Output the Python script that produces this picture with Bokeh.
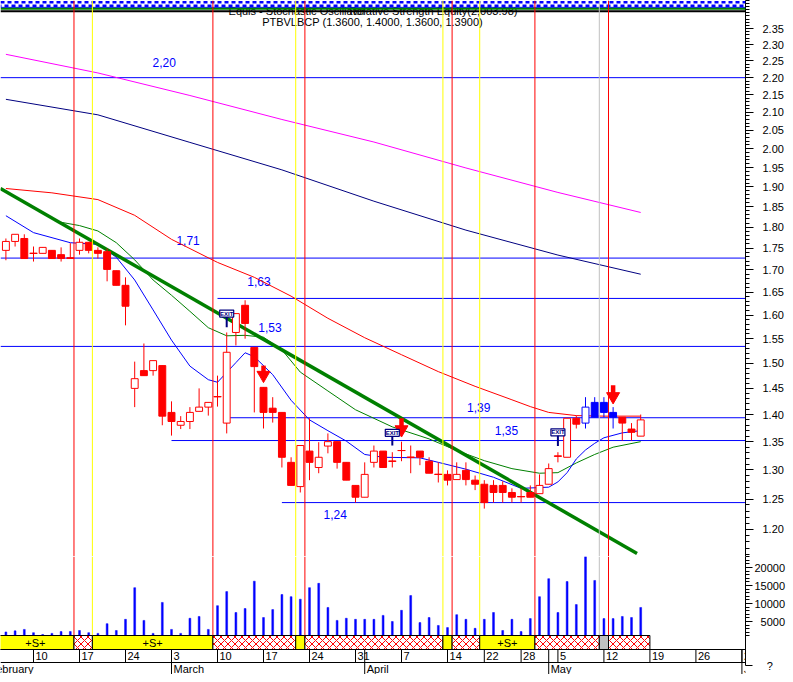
from bokeh.plotting import figure
from bokeh.layouts import column
from bokeh.models import Range1d, FixedTicker, PrintfTickFormatter, Span, ColumnDataSource
from bokeh.core.properties import value
from bokeh.embed import file_html
from bokeh.resources import INLINE

FONT = "Liberation Sans"

# ---------------------------------------------------------------- data
# trading-day index: 0 = Mon 10 Feb 2003 (18/21 Apr and 1 May are closed)
days = list(range(-3, 67))
opens = [1.745, 1.766, 1.773, 1.738, 1.738, 1.745, 1.735, 1.728, 1.745, 1.764,
         1.745, 1.742, 1.698, 1.665, 1.450, 1.485, 1.485, 1.495, 1.404, 1.380,
         1.387, 1.406, 1.414, 1.434, 1.384, 1.563, 1.621, 1.532, 1.452, 1.412,
         1.404, 1.313, 1.271, 1.333, 1.304, 1.342, 1.350, 1.313, 1.273, 1.253,
         1.313, 1.333, 1.315, 1.334, 1.322, 1.333, 1.315, 1.292, 1.292, 1.283,
         1.299, 1.282, 1.275, 1.273, 1.273, 1.261, 1.254, 1.261, 1.259, 1.275,
         1.324, 1.322, 1.393, 1.384, 1.423, 1.423, 1.404, 1.395, 1.373, 1.360]
highs = [1.773, 1.783, 1.783, 1.754, 1.752, 1.745, 1.752, 1.762, 1.773, 1.764,
         1.752, 1.749, 1.698, 1.683, 1.503, 1.540, 1.505, 1.495, 1.425, 1.397,
         1.414, 1.450, 1.423, 1.475, 1.563, 1.603, 1.632, 1.532, 1.452, 1.433,
         1.404, 1.322, 1.343, 1.393, 1.349, 1.365, 1.350, 1.313, 1.273, 1.313,
         1.343, 1.333, 1.331, 1.350, 1.343, 1.333, 1.322, 1.313, 1.299, 1.313,
         1.313, 1.290, 1.282, 1.282, 1.280, 1.268, 1.268, 1.273, 1.292, 1.311,
         1.331, 1.393, 1.398, 1.433, 1.433, 1.433, 1.414, 1.395, 1.384, 1.400]
lows = [1.722, 1.754, 1.726, 1.719, 1.738, 1.726, 1.719, 1.726, 1.735, 1.738,
        1.726, 1.674, 1.665, 1.578, 1.414, 1.475, 1.475, 1.380, 1.361, 1.373,
        1.373, 1.406, 1.398, 1.415, 1.365, 1.536, 1.550, 1.404, 1.374, 1.385,
        1.304, 1.273, 1.261, 1.282, 1.294, 1.329, 1.302, 1.282, 1.244, 1.253,
        1.304, 1.304, 1.304, 1.315, 1.294, 1.308, 1.294, 1.278, 1.273, 1.283,
        1.273, 1.265, 1.234, 1.244, 1.244, 1.244, 1.244, 1.253, 1.259, 1.275,
        1.313, 1.322, 1.374, 1.374, 1.395, 1.395, 1.374, 1.352, 1.352, 1.360]
closes = [1.766, 1.783, 1.726, 1.738, 1.752, 1.726, 1.726, 1.726, 1.764, 1.745,
          1.738, 1.701, 1.665, 1.619, 1.469, 1.475, 1.505, 1.397, 1.387, 1.387,
          1.404, 1.414, 1.423, 1.434, 1.522, 1.603, 1.582, 1.493, 1.404, 1.404,
          1.322, 1.273, 1.343, 1.313, 1.322, 1.350, 1.313, 1.282, 1.253, 1.292,
          1.333, 1.304, 1.315, 1.334, 1.322, 1.322, 1.294, 1.292, 1.282, 1.292,
          1.283, 1.275, 1.244, 1.261, 1.261, 1.253, 1.254, 1.253, 1.273, 1.302,
          1.324, 1.393, 1.382, 1.414, 1.395, 1.404, 1.395, 1.384, 1.367, 1.390]
volumes = [2100, 2400, 2800, 1900, 1400, 1700, 2200, 2200, 2500, 1900,
           1700, 4400, 2500, 5600, 14400, 5300, 1700, 10300, 2800, 1700,
           5900, 6400, 2800, 9400, 13300, 7500, 8600, 16200, 6100, 8300,
           12500, 11900, 11200, 14400, 15600, 8900, 5300, 5900, 5600, 5600,
           5600, 6700, 5000, 8100, 12200, 4700, 6100, 3900, 3300, 6900,
           5600, 3100, 5600, 7500, 2500, 5600, 2200, 5800, 11900, 16900,
           7500, 16100, 9700, 23000, 16400, 5800, 5800, 6400, 6100, 8900]
blue_candle_days = [60, 61, 62, 63]

ma_red_days = [-3, 2, 7, 11, 15, 20, 24, 28, 32, 36, 40, 44, 48, 52, 54, 56, 59, 62, 66]
ma_red = [1.896, 1.885, 1.868, 1.829, 1.771, 1.717, 1.683, 1.641, 1.593, 1.552,
          1.517, 1.483, 1.454, 1.428, 1.415, 1.404, 1.398, 1.397, 1.397]
ma_navy_days = [-3, 7, 17, 27, 37, 47, 57, 66]
ma_navy = [2.137, 2.093, 2.017, 1.944, 1.864, 1.793, 1.734, 1.690]
ma_magenta_days = [-3, 7, 17, 27, 37, 47, 57, 66]
ma_magenta = [2.270, 2.214, 2.148, 2.080, 2.018, 1.949, 1.886, 1.836]
ma_blue_days = [-3, 0, 4, 7, 9, 11, 13, 15, 17, 19, 20, 22, 23, 24, 26, 28, 30, 32, 34,
                36, 38, 42, 44, 47, 50, 53, 56, 57, 58, 59, 60, 61, 62, 64, 66]
ma_blue = [1.828, 1.787, 1.763, 1.759, 1.729, 1.677, 1.611, 1.547, 1.494, 1.467,
           1.462, 1.501, 1.521, 1.513, 1.477, 1.427, 1.390, 1.370, 1.351, 1.327,
           1.322, 1.321, 1.313, 1.301, 1.287, 1.268, 1.270, 1.279, 1.295, 1.319,
           1.335, 1.347, 1.357, 1.366, 1.370]
ma_green_days = [3, 5, 7, 9, 11, 13, 15, 17, 19, 21, 23, 25, 27, 29, 32, 35, 39, 43,
                 46, 49, 52, 55, 57, 59, 61, 63, 66]
ma_green = [1.812, 1.804, 1.791, 1.763, 1.723, 1.677, 1.643, 1.608, 1.573, 1.556,
            1.557, 1.553, 1.527, 1.482, 1.445, 1.409, 1.377, 1.355, 1.334, 1.316,
            1.302, 1.294, 1.295, 1.312, 1.327, 1.340, 1.350]
trend_days = [-3.6, 65.6]
trend_vals = [1.896, 1.162]

level_values = [2.200, 1.727, 1.636, 1.534, 1.394, 1.352, 1.244]
level_from_day = [None, None, 20, None, 21, 15, 27]
level_texts = ["2,20", "1,71", "1,63", "1,53", "1,39", "1,35", "1,24"]
level_text_day = [14.2, 16.8, 24.5, 25.7, 48.4, 51.4, 32.8]
level_text_price = [2.245, 1.768, 1.674, 1.5735, 1.4135, 1.3707, 1.2245]

red_event_days = [4.4, 19.5, 29.5, 45.5, 54.5, 62.5]
yellow_event_days = [6.4, 28.5, 44.5, 48.5]
gray_event_days = [61.5]

band_start = [-4, 4.4, 6.4, 19.5, 28.5, 29.5, 44.5, 45.5, 48.5, 54.5, 61.5, 62.5]
band_end = [4.4, 6.4, 19.5, 28.5, 29.5, 44.5, 45.5, 48.5, 54.5, 61.5, 62.5, 67]
band_kind = ["S", "x", "S", "x", "y", "x", "y", "x", "S", "x", "g", "x"]

arrow_days = [25, 40, 63]
arrow_top = [1.495, 1.393, 1.456]
arrow_tip = [1.466, 1.361, 1.423]

flag_days = [21, 39, 57]
flag_box = [1.603, 1.366, 1.367]
flag_stem_end = [1.574, 1.343, 1.342]

day_ticks = [0, 5, 10, 15, 20, 25, 30, 35, 40, 45, 49, 53, 57, 62, 67, 72, 77]
day_labels = ["10", "17", "24", "3", "10", "17", "24", "31", "7", "14", "22", "28",
              "5", "12", "19", "26", "2"]
month_ticks = [-5, 15, 36, 56, 77]
month_labels = ["February", "March", "April", "May", "June"]

price_ticks = [1.20, 1.25, 1.30, 1.35, 1.40, 1.45, 1.50, 1.55, 1.60, 1.65, 1.70, 1.75,
               1.80, 1.85, 1.90, 1.95, 2.00, 2.05, 2.10, 2.15, 2.20, 2.25, 2.30, 2.35]
price_minor = [round(1.15 + 0.01 * i, 2) for i in range(130)]
volume_ticks = [5000, 10000, 15000, 20000]
volume_labels = ["\u20075000", "10000", "15000", "20000"]
volume_minor = [1000 * i for i in range(1, 24)]
help_tick_value, help_tick_text = -7300, "\u2007\u2007?"

title_main = "PTBVLBCP (1.3600, 1.4000, 1.3600, 1.3900)"
title_a = "Equis - Stochastic Oscillator"
title_b = "Relative Strength Equity(2,003.98)"

# ---------------------------------------------------------------- layout constants
X0, X1 = -3.587, 77.39
P_LO, P_HI = 1.1572, 2.440
V_LO, V_HI = -9722, 23056
BAND_TOP, BAND_BOT, ROW_SPLIT = 1111, -2778, -6389
RED, YEL, GRAY, BLUE, NAVY = "#ff0000", "#ffff00", "#c0c0c0", "#0000ff", "#000080"


def style_axis(a, standoff, tick_out):
    a.axis_line_color = "black"
    a.major_tick_line_color = "black"
    a.minor_tick_line_color = "black"
    a.major_tick_out = tick_out
    a.major_tick_in = 0
    a.minor_tick_out = 4
    a.minor_tick_in = 0
    a.major_label_standoff = standoff
    a.major_label_text_font = FONT
    a.major_label_text_font_size = "11px"
    a.major_label_text_color = "black"


# ---------------------------------------------------------------- price panel
p = figure(frame_width=745, frame_height=556, x_range=Range1d(X0, X1),
           y_range=Range1d(P_LO, P_HI), y_axis_type="log", y_axis_location="right",
           x_axis_location=None, toolbar_location=None, output_backend="svg",
           min_border_left=0, min_border_right=40, min_border_top=0, min_border_bottom=0,
           outline_line_color=None, background_fill_color="white", border_fill_color="white")
p.grid.visible = False

# header strips
p.add_layout(Span(location=2.4339, dimension="width", line_color=BLUE, line_width=2.5, line_dash="4 3"))
p.add_layout(Span(location=2.4232, dimension="width", line_color=BLUE, line_width=2.5,
                  line_dash="4 3", line_dash_offset=3))
p.add_layout(Span(location=2.4176, dimension="width", line_color=BLUE, line_width=1))
p.add_layout(Span(location=2.4128, dimension="width", line_color="#008000", line_width=2))
p.add_layout(Span(location=2.4047, dimension="width", line_color="black", line_width=2))

for d in red_event_days:
    p.add_layout(Span(location=d, dimension="height", line_color=RED, line_width=1))
for d in yellow_event_days:
    p.add_layout(Span(location=d, dimension="height", line_color=YEL, line_width=1))
for d in gray_event_days:
    p.add_layout(Span(location=d, dimension="height", line_color=GRAY, line_width=1))

p.segment(x0=[X0 if s is None else s for s in level_from_day], x1=[X1] * len(level_values),
          y0=level_values, y1=level_values, line_color=BLUE, line_width=1)
p.text(x=level_text_day, y=level_text_price, text=level_texts, text_align="center",
       text_baseline="middle", text_font=value(FONT), text_font_size="12px", text_color=BLUE)

p.line(ma_magenta_days, ma_magenta, line_color="#ff00ff", line_width=1)
p.line(ma_navy_days, ma_navy, line_color=NAVY, line_width=1)
p.line(ma_red_days, ma_red, line_color=RED, line_width=1)
p.line(ma_green_days, ma_green, line_color="#008000", line_width=1)
p.line(ma_blue_days, ma_blue, line_color=BLUE, line_width=1)
p.line(trend_days, trend_vals, line_color="#008000", line_width=3.5)

cols = [BLUE if d in blue_candle_days else RED for d in days]
src = ColumnDataSource(dict(
    x=days, h=highs, l=lows,
    top=[max(o, c) for o, c in zip(opens, closes)],
    bot=[min(o, c) for o, c in zip(opens, closes)],
    col=cols,
    fill=["white" if c > o else k for o, c, k in zip(opens, closes, cols)],
))
p.segment(x0="x", x1="x", y0="l", y1="h", line_color="col", line_width=1, source=src)
p.vbar(x="x", top="top", bottom="bot", width=0.75, fill_color="fill", line_color="col",
       line_width=1, source=src)
doji = [i for i, (o, c) in enumerate(zip(opens, closes)) if o == c]
p.scatter([days[i] for i in doji], [closes[i] for i in doji], marker="dash", size=8,
          line_color=[cols[i] for i in doji], line_width=1)

# sell arrows
head = [t * (a / t) ** 0.35 for a, t in zip(arrow_top, arrow_tip)]
p.segment(x0=arrow_days, x1=arrow_days, y0=arrow_top, y1=head, line_color=RED, line_width=4.5)
p.scatter(arrow_days, head, marker="inverted_triangle", size=13, fill_color=RED, line_color=RED)

# exit flags
p.segment(x0=flag_days, x1=flag_days, y0=flag_box, y1=flag_stem_end, line_color=NAVY, line_width=2)
p.rect(flag_days, flag_box, width=14, height=7, width_units="screen", height_units="screen",
       fill_color="white", line_color=NAVY, line_width=1.2)
p.text(x=flag_days, y=flag_box, text=["EXIT"] * len(flag_days), text_align="center",
       text_baseline="middle", text_font=value(FONT), text_font_size="6px",
       text_font_style="bold", text_color=NAVY)

# titles
p.text(x=[21.2], y=[2.4047], text=[title_a], text_align="left", text_baseline="middle",
       text_font=value(FONT), text_font_size="11px", text_color="black")
p.text(x=[52.6], y=[2.4047], text=[title_b], text_align="right", text_baseline="middle",
       text_font=value(FONT), text_font_size="11px", text_color="black")
p.text(x=[36.85], y=[2.3722], text=[title_main], text_align="center", text_baseline="middle",
       text_font=value(FONT), text_font_size="11px", text_color="black")

ax = p.yaxis[0]
ax.ticker = FixedTicker(ticks=price_ticks, minor_ticks=price_minor)
ax.formatter = PrintfTickFormatter(format="%.2f")
style_axis(ax, 9, 8)

# ---------------------------------------------------------------- volume / date panel
v = figure(frame_width=745, frame_height=118, x_range=p.x_range, y_range=Range1d(V_LO, V_HI),
           y_axis_location="right", x_axis_location=None, toolbar_location=None,
           output_backend="svg", min_border_left=0, min_border_right=40, min_border_top=0,
           min_border_bottom=0, outline_line_color=None, background_fill_color="white",
           border_fill_color="white")
v.grid.visible = False

for evs, c in ((red_event_days, RED), (yellow_event_days, YEL), (gray_event_days, GRAY)):
    v.segment(x0=evs, x1=evs, y0=[BAND_TOP] * len(evs), y1=[V_HI] * len(evs),
              line_color=c, line_width=1)

v.vbar(x=days, top=volumes, bottom=0, width=0.2, fill_color=BLUE, line_color=BLUE, line_width=0.5)

fills = {"S": YEL, "y": YEL, "g": GRAY, "x": "white"}
bsrc = ColumnDataSource(dict(
    left=band_start, right=band_end,
    fill=[fills[k] for k in band_kind],
    hatch=["x" if k == "x" else " " for k in band_kind],
))
v.quad(left="left", right="right", bottom=BAND_BOT, top=BAND_TOP, fill_color="fill",
       hatch_pattern="hatch", hatch_color=RED, hatch_scale=7, hatch_weight=1,
       line_color="black", line_width=1, source=bsrc)
s_idx = [i for i, k in enumerate(band_kind) if k == "S"]
v.text(x=[(band_start[i] + band_end[i]) / 2 for i in s_idx],
       y=[(BAND_TOP + BAND_BOT) / 2] * len(s_idx), text=["+S+"] * len(s_idx),
       text_align="center", text_baseline="middle", text_font=value(FONT),
       text_font_size="11px", text_color="black")

v.add_layout(Span(location=BAND_BOT, dimension="width", line_color="black", line_width=1))
v.add_layout(Span(location=ROW_SPLIT, dimension="width", line_color="black", line_width=1))
v.segment(x0=day_ticks, x1=day_ticks, y0=[BAND_BOT] * len(day_ticks),
          y1=[ROW_SPLIT] * len(day_ticks), line_color="black", line_width=1)
v.segment(x0=month_ticks, x1=month_ticks, y0=[BAND_BOT] * len(month_ticks),
          y1=[V_LO] * len(month_ticks), line_color="black", line_width=1)
v.text(x=day_ticks, y=[(BAND_BOT + ROW_SPLIT) / 2] * len(day_ticks), text=day_labels,
       x_offset=2, text_align="left", text_baseline="middle", text_font=value(FONT),
       text_font_size="11px", text_color="black")
v.text(x=month_ticks, y=[(ROW_SPLIT + V_LO) / 2] * len(month_ticks), text=month_labels,
       x_offset=2, text_align="left", text_baseline="middle", text_font=value(FONT),
       text_font_size="11px", text_color="black")

vax = v.yaxis[0]
vax.ticker = FixedTicker(ticks=volume_ticks + [help_tick_value], minor_ticks=volume_minor)
overrides = {t: s for t, s in zip(volume_ticks, volume_labels)}
overrides[help_tick_value] = help_tick_text
vax.major_label_overrides = overrides
vax.bounds = (help_tick_value, V_HI)
style_axis(vax, 2, 7)

layout = column(p, v, spacing=0)
open("out.html", "w").write(file_html(layout, INLINE))
